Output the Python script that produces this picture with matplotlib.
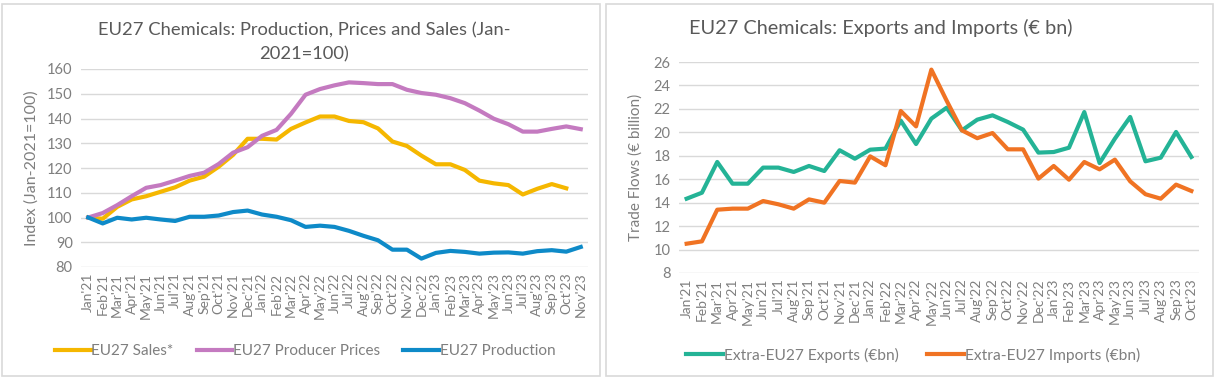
import matplotlib
matplotlib.use("Agg")
import matplotlib.pyplot as plt
from matplotlib.patches import Rectangle

plt.rcParams["font.family"] = ["Lato", "DejaVu Sans"]

# ===== data =====
months = ["Jan'21", "Feb'21", "Mar'21", "Apr'21", "May'21", "Jun'21", "Jul'21", "Aug'21",
          "Sep'21", "Oct'21", "Nov'21", "Dec'21", "Jan'22", "Feb'22", "Mar'22", "Apr'22",
          "May'22", "Jun'22", "Jul'22", "Aug'22", "Sep'22", "Oct'22", "Nov'22", "Dec'22",
          "Jan'23", "Feb'23", "Mar'23", "Apr'23", "May'23", "Jun'23", "Jul'23", "Aug'23",
          "Sep'23", "Oct'23", "Nov'23"]

sales = [100, 99.5, 104.3, 107.3, 108.6, 110.4, 112.2, 114.9, 116.5, 120.5, 125.3, 131.8,
         131.8, 131.5, 135.8, 138.4, 140.8, 140.8, 139.0, 138.5, 136.0, 130.7, 128.9, 125.0,
         121.5, 121.5, 119.2, 114.9, 113.8, 113.1, 109.3, 111.6, 113.5, 111.8]

prices = [100, 101.8, 105.0, 108.6, 112.0, 113.1, 114.9, 116.8, 118.1, 121.6, 126.2, 128.4,
          133.0, 135.4, 141.9, 149.6, 151.9, 153.4, 154.6, 154.3, 153.9, 153.9, 151.6, 150.3,
          149.6, 148.2, 146.2, 143.2, 139.9, 137.7, 134.7, 134.7, 135.8, 136.8, 135.7]

production = [100, 97.6, 99.9, 99.2, 99.9, 99.2, 98.6, 100.3, 100.3, 100.8, 102.2, 102.8,
              101.2, 100.3, 98.9, 96.2, 96.7, 96.2, 94.6, 92.6, 90.8, 87.0, 87.0, 83.4,
              85.7, 86.5, 86.1, 85.4, 85.8, 85.9, 85.4, 86.4, 86.8, 86.2, 88.1]

exports = [14.34, 14.85, 17.47, 15.62, 15.62, 16.99, 16.99, 16.62, 17.13, 16.70, 18.47, 17.75,
           18.52, 18.61, 21.0, 19.0, 21.17, 22.1, 20.17, 21.08, 21.45, 20.88, 20.23, 18.27,
           18.32, 18.69, 21.73, 17.38, 19.46, 21.31, 17.53, 17.84, 20.03, 17.90]

imports = [10.5, 10.7, 13.4, 13.49, 13.49, 14.14, 13.86, 13.49, 14.28, 14.0, 15.85, 15.71,
           17.95, 17.19, 21.82, 20.51, 25.35, 22.7, 20.17, 19.5, 19.94, 18.55, 18.55, 16.05,
           17.13, 15.96, 17.47, 16.84, 17.67, 15.82, 14.72, 14.34, 15.54, 15.0]

TEXT = "#7f7f7f"
TITLE = "#595959"
GRID = "#d9d9d9"
W, H = 1217, 380


def style_axis(ax, labels, ylim, yticks):
    ax.set_xticks(range(len(labels)))
    ax.set_xticklabels(labels, rotation=90, fontsize=10, color=TEXT)
    ax.set_xlim(-0.5, len(labels) - 0.5)
    ax.set_ylim(*ylim)
    ax.set_yticks(yticks)
    ax.tick_params(axis="y", labelsize=10.5, labelcolor=TEXT, length=0, pad=6)
    ax.tick_params(axis="x", length=0, pad=4)
    ax.grid(axis="y", color=GRID, linewidth=1)
    ax.set_axisbelow(True)
    for s in ax.spines.values():
        s.set_visible(False)


fig = plt.figure(figsize=(W / 100, H / 100), dpi=100)

# panel borders
fig.patches.append(Rectangle((2 / W, 4 / H), 598 / W, 372 / H, transform=fig.transFigure,
                             fill=False, edgecolor=GRID, linewidth=1.2))
fig.patches.append(Rectangle((606 / W, 4 / H), 607 / W, 372 / H, transform=fig.transFigure,
                             fill=False, edgecolor=GRID, linewidth=1.2))

# ===== 1. Production, Prices, Sales =====
ax1 = fig.add_axes([81 / W, 1 - 267 / H, 507 / W, 198 / H])
x_all = range(len(months))
ax1.plot(range(len(sales)), sales, color="#f5b700", linewidth=3, label="EU27 Sales*")
ax1.plot(x_all, prices, color="#c47ac0", linewidth=3, label="EU27 Producer Prices")
ax1.plot(x_all, production, color="#0e8ac8", linewidth=3, label="EU27 Production")
style_axis(ax1, months, (80, 160), range(80, 161, 10))
ax1.set_ylabel("Index (Jan-2021=100)", fontsize=11.5, color=TEXT, labelpad=6)
fig.text(304 / W, 1 - 42.5 / H, "EU27 Chemicals: Production, Prices and Sales (Jan-\n2021=100)",
         fontsize=13.2, color=TITLE, ha="center", va="center", linespacing=1.65)
ax1.legend(loc="center", bbox_to_anchor=(0.442, -0.424), ncol=3, frameon=False,
           fontsize=11, labelcolor=TEXT, handlelength=2.35, columnspacing=1.5, handletextpad=0.05)

# ===== 2. Exports and Imports =====
ax2 = fig.add_axes([679 / W, 1 - 273 / H, 520 / W, 211 / H])
m2 = months[:len(exports)]
ax2.plot(range(len(exports)), exports, color="#24b396", linewidth=3, label="Extra-EU27 Exports (€bn)")
ax2.plot(range(len(imports)), imports, color="#f07323", linewidth=3, label="Extra-EU27 Imports (€bn)")
style_axis(ax2, m2, (8, 26), range(8, 27, 2))
ax2.set_ylabel("Trade Flows (€ billion)", fontsize=11, color=TEXT, labelpad=8)
fig.text(689 / W, 1 - 28 / H, "EU27 Chemicals: Exports and Imports (€ bn)",
         fontsize=14.3, color=TITLE, ha="left", va="center")
ax2.legend(loc="center", bbox_to_anchor=(0.45, -0.389), ncol=2, frameon=False,
           fontsize=11.2, labelcolor=TEXT, handlelength=2.4, columnspacing=1.8, handletextpad=0.05)

fig.savefig("out.png", dpi=100)
